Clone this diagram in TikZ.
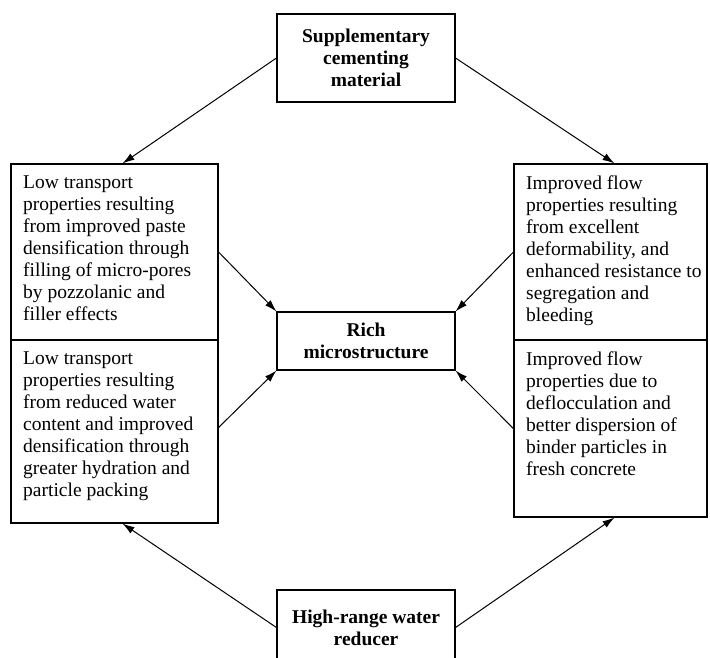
\documentclass[tikz,border=0pt]{standalone}
\usepackage{fontspec}
\setmainfont{Liberation Serif}
\usetikzlibrary{arrows.meta}

\begin{document}
\begin{tikzpicture}[x=1pt,y=-1pt,
  box/.style={draw,line width=1.1pt,inner sep=0pt},
  head/.style={font=\fontsize{19.5}{22}\selectfont\bfseries,align=center},
  txt/.style={font=\fontsize{19.5}{22}\selectfont,align=left,inner sep=0pt,anchor=north west},
  link/.style={->,line width=1pt},
  >={Latex[length=12pt,width=7.5pt]}]
\useasboundingbox (0,0) rectangle (710,657);

\node[box,head,minimum width=178pt,minimum height=88pt] (scm) at (366,58) {Supplementary\\cementing\\material};
\node[box,head,minimum width=178pt,minimum height=58pt] (rich) at (366,341) {Rich\\microstructure};
\node[box,head,minimum width=178pt,minimum height=75pt] (hrwr) at (366,627.5) {High-range water\\reducer};

\node[box,minimum width=207pt,minimum height=176pt] (lt) at (114.5,252) {};
\node[box,minimum width=207pt,minimum height=183pt] (lb) at (114.5,431.5) {};
\node[box,minimum width=193pt,minimum height=176pt] (rt) at (610.5,252) {};
\node[box,minimum width=193pt,minimum height=177pt] (rb) at (610.5,428.5) {};

\node[txt] (ltt) at (23,176) {Low transport\\properties resulting\\from improved paste\\densification through\\filling of micro-pores\\by pozzolanic and\\filler effects};
\node[txt] (lbt) at (23,352) {Low transport\\properties resulting\\from reduced water\\content and improved\\densification through\\greater hydration and\\particle packing};
\node[txt] (rtt) at (526,176) {Improved flow\\properties resulting\\from excellent\\deformability, and\\enhanced resistance to\\segregation and\\bleeding};
\node[txt] (rbt) at (526,352) {Improved flow\\properties due to\\deflocculation and\\better dispersion of\\binder particles in\\fresh concrete};

\draw[link] (scm.west) -- ([xshift=8pt]lt.north);
\draw[link] (scm.east) -- ([xshift=4pt]rt.north);
\draw[link] (lt.east) -- (rich.north west);
\draw[link] (rt.west) -- (rich.north east);
\draw[link] ([yshift=4pt]lb.east) -- (rich.south west);
\draw[link] (rb.west) -- (rich.south east);
\draw[link] (hrwr.west) -- ([xshift=8pt]lb.south);
\draw[link] (hrwr.east) -- ([xshift=4pt]rb.south);

\end{tikzpicture}
\end{document}
